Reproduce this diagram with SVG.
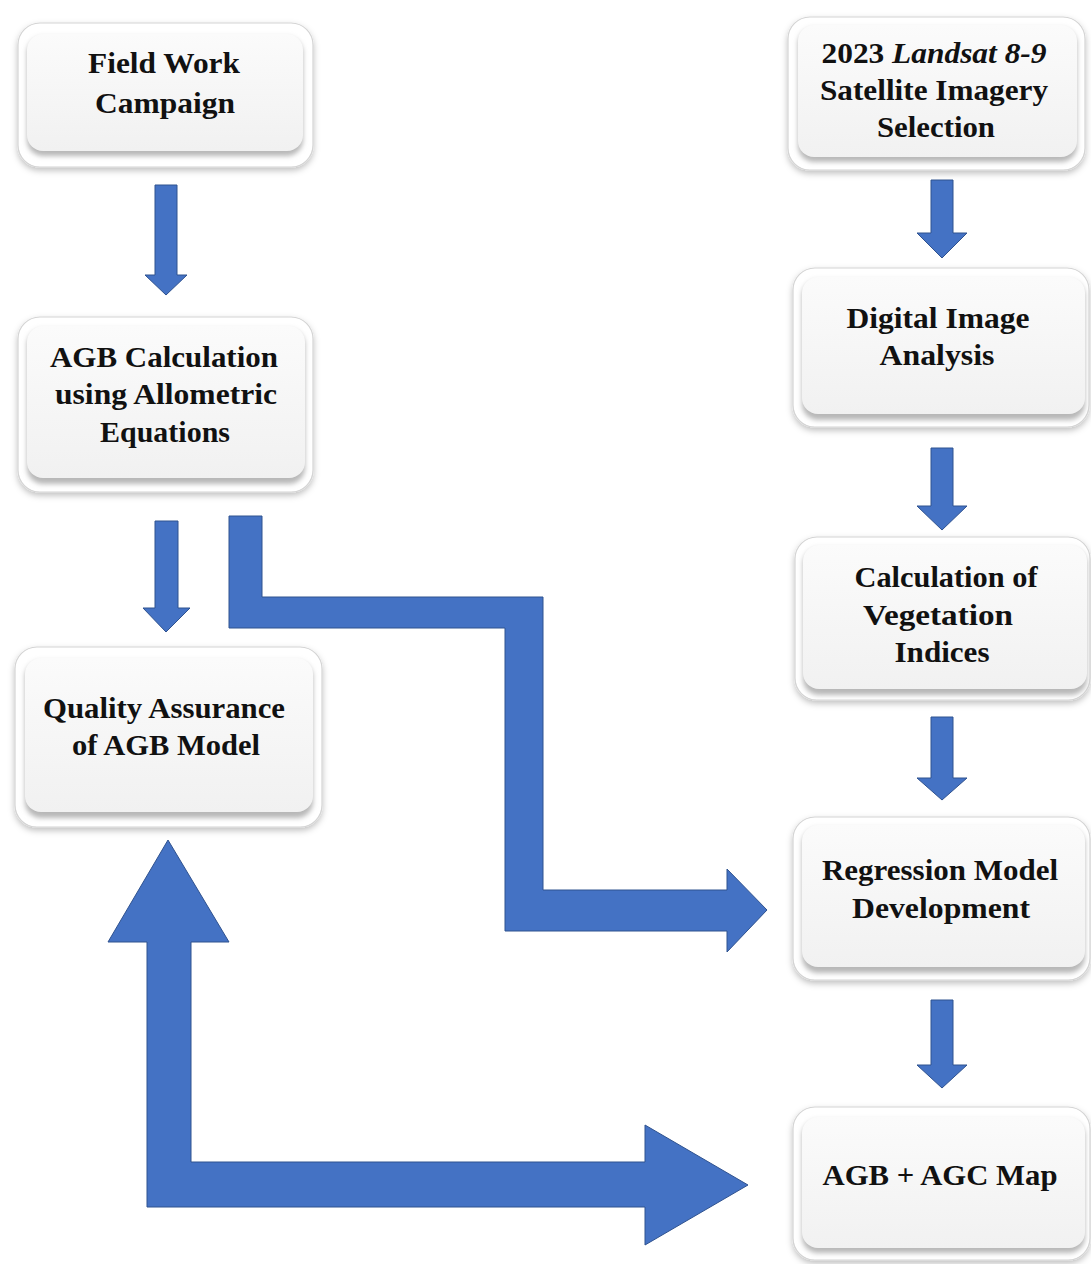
<svg xmlns="http://www.w3.org/2000/svg" width="1091" height="1264" viewBox="0 0 1091 1264">
<style>
.outer{fill:#ffffff;stroke:#d4d4d4;stroke-width:1.2;filter:url(#sh)}
.bevel{fill:#b8b8b8;filter:url(#bl)}
.inner{fill:url(#g)}
.t{font-family:"Liberation Serif","Times New Roman",serif;font-weight:bold;font-size:30px;fill:#111;text-anchor:middle}
.arrow{fill:#4472C4;stroke:#2F528F;stroke-width:1}
</style>
<defs>
<filter id="sh" x="-10%" y="-10%" width="120%" height="130%">
<feDropShadow dx="0" dy="3" stdDeviation="3" flood-color="#000" flood-opacity="0.25"/>
</filter>
<filter id="bl" x="-10%" y="-10%" width="120%" height="130%">
<feGaussianBlur stdDeviation="2.5"/>
</filter>
<linearGradient id="g" x1="0" y1="0" x2="0" y2="1">
<stop offset="0" stop-color="#fbfbfb"/>
<stop offset="1" stop-color="#f1f1f1"/>
</linearGradient>
</defs>
<rect width="1091" height="1264" fill="#ffffff"/>

<g id="connectors">
<path class="arrow" d="M155,185 L177,185 L177,275 L187,275 L166,295 L145,275 L155,275 Z"/>
<path class="arrow" d="M155,521 L178,521 L178,608 L190,608 L166,632 L143,608 L155,608 Z"/>
<path class="arrow" d="M229,516 L262,516 L262,597 L543,597 L543,890 L727,890 L727,869 L767,910 L727,952 L727,931 L505,931 L505,628 L229,628 Z"/>
<path class="arrow" d="M168,840 L229,942 L191,942 L191,1162 L645,1162 L645,1125 L748,1185 L645,1245 L645,1207 L147,1207 L147,942 L108,942 Z"/>
<path class="arrow" d="M931,180 L953,180 L953,233 L967,233 L942,258 L917,233 L931,233 Z"/>
<path class="arrow" d="M931,448 L953,448 L953,506 L967,506 L942,530 L917,506 L931,506 Z"/>
<path class="arrow" d="M931,717 L953,717 L953,778 L967,778 L942,800 L917,778 L931,778 Z"/>
<path class="arrow" d="M931,1000 L953,1000 L953,1065 L967,1065 L942,1088 L917,1065 L931,1065 Z"/>
</g>

<g id="field-work">
<rect class="outer" x="18" y="23" width="295" height="144" rx="22"/>
<rect class="bevel" x="27" y="37" width="276" height="119" rx="16"/>
<rect class="inner" x="27" y="34" width="276" height="117" rx="16"/>
<text class="t" x="164" y="73" textLength="152" lengthAdjust="spacingAndGlyphs">Field Work</text>
<text class="t" x="165" y="113" textLength="140" lengthAdjust="spacingAndGlyphs">Campaign</text>
</g>

<g id="agb-calc">
<rect class="outer" x="18" y="317" width="295" height="175" rx="22"/>
<rect class="bevel" x="27" y="329" width="278" height="155" rx="16"/>
<rect class="inner" x="27" y="326" width="278" height="152" rx="16"/>
<text class="t" x="164" y="367" textLength="228" lengthAdjust="spacingAndGlyphs">AGB Calculation</text>
<text class="t" x="166" y="404" textLength="222" lengthAdjust="spacingAndGlyphs">using Allometric</text>
<text class="t" x="165" y="442" textLength="130" lengthAdjust="spacingAndGlyphs">Equations</text>
</g>

<g id="quality">
<rect class="outer" x="15" y="647" width="307" height="180" rx="22"/>
<rect class="bevel" x="25" y="661" width="288" height="157" rx="16"/>
<rect class="inner" x="25" y="658" width="288" height="154" rx="16"/>
<text class="t" x="164" y="718" textLength="242" lengthAdjust="spacingAndGlyphs">Quality Assurance</text>
<text class="t" x="166" y="755" textLength="188" lengthAdjust="spacingAndGlyphs">of AGB Model</text>
</g>

<g id="landsat">
<rect class="outer" x="788" y="17" width="297" height="153" rx="22"/>
<rect class="bevel" x="798" y="28" width="279" height="134" rx="16"/>
<rect class="inner" x="798" y="25" width="279" height="132" rx="16"/>
<text class="t" x="934" y="63" textLength="225" lengthAdjust="spacingAndGlyphs">2023 <tspan font-style="italic">Landsat 8-9</tspan></text>
<text class="t" x="934" y="100" textLength="228" lengthAdjust="spacingAndGlyphs">Satellite Imagery</text>
<text class="t" x="936" y="137" textLength="118" lengthAdjust="spacingAndGlyphs">Selection</text>
</g>

<g id="digital">
<rect class="outer" x="793" y="268" width="296" height="159" rx="22"/>
<rect class="bevel" x="802" y="280" width="283" height="140" rx="16"/>
<rect class="inner" x="802" y="277" width="283" height="137" rx="16"/>
<text class="t" x="938" y="328" textLength="183" lengthAdjust="spacingAndGlyphs">Digital Image</text>
<text class="t" x="937" y="365" textLength="115" lengthAdjust="spacingAndGlyphs">Analysis</text>
</g>

<g id="vegetation">
<rect class="outer" x="795" y="537" width="295" height="163" rx="22"/>
<rect class="bevel" x="803" y="548" width="284" height="147" rx="16"/>
<rect class="inner" x="803" y="545" width="284" height="144" rx="16"/>
<text class="t" x="946" y="587" textLength="183" lengthAdjust="spacingAndGlyphs">Calculation of</text>
<text class="t" x="938" y="625" textLength="150" lengthAdjust="spacingAndGlyphs">Vegetation</text>
<text class="t" x="942" y="662" textLength="95" lengthAdjust="spacingAndGlyphs">Indices</text>
</g>

<g id="regression">
<rect class="outer" x="793" y="817" width="297" height="163" rx="22"/>
<rect class="bevel" x="802" y="828" width="283" height="145" rx="16"/>
<rect class="inner" x="802" y="825" width="283" height="142" rx="16"/>
<text class="t" x="940" y="880" textLength="236" lengthAdjust="spacingAndGlyphs">Regression Model</text>
<text class="t" x="941" y="918" textLength="178" lengthAdjust="spacingAndGlyphs">Development</text>
</g>

<g id="map">
<rect class="outer" x="793" y="1107" width="297" height="153" rx="22"/>
<rect class="bevel" x="802" y="1120" width="283" height="133" rx="16"/>
<rect class="inner" x="802" y="1117" width="283" height="131" rx="16"/>
<text class="t" x="940" y="1185" textLength="235" lengthAdjust="spacingAndGlyphs">AGB + AGC Map</text>
</g>
</svg>
